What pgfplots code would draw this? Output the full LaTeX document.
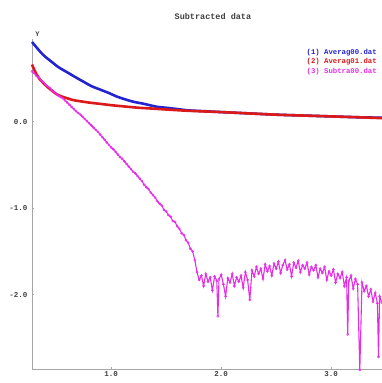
\documentclass[border=0pt]{standalone}
\usepackage{fontspec}
\setmonofont{Liberation Mono}
\usepackage{pgfplots}
\pgfplotsset{compat=1.18}
\definecolor{cblue}{RGB}{35,35,210}
\definecolor{cred}{RGB}{220,25,25}
\definecolor{cmag}{RGB}{230,45,230}
\begin{document}
\begin{tikzpicture}
\begin{axis}[
  x=110pt, y=86.5pt,
  xmin=0.28, xmax=3.46, ymin=-2.86, ymax=0.95,
  axis lines=left,
  axis line style={draw=gray!70, -, line width=0.8pt},
  clip=false,
  xtick={1,2,3}, xticklabels={1.0,2.0,3.0},
  ytick={-2,-1,0}, yticklabels={-2.0,-1.0,0.0},
  tick style={draw=gray!70, line width=0.6pt},
  major tick length=2pt,
  tick align=inside,
  ticklabel style={font=\ttfamily\bfseries\fontsize{7.5}{8}\selectfont, text=black!75},
  xticklabel style={yshift=1pt},
  yticklabel style={xshift=-1pt},
]
\addplot[cblue, line width=2.6pt, smooth] coordinates {
(0.28,0.92) (0.32,0.86) (0.36,0.80) (0.40,0.75) (0.45,0.70) (0.52,0.63) (0.60,0.57) (0.68,0.51) (0.75,0.46) (0.82,0.41) (0.90,0.37) (0.98,0.33) (1.05,0.29) (1.12,0.26) (1.20,0.23) (1.28,0.21) (1.35,0.19) (1.42,0.17) (1.50,0.16) (1.60,0.145) (1.70,0.13) (1.85,0.12) (2.00,0.11) (2.25,0.095) (2.50,0.08) (2.75,0.07) (3.00,0.06) (3.25,0.05) (3.46,0.045)
};
\addplot[cred, line width=2.6pt, smooth] coordinates {
(0.28,0.66) (0.30,0.60) (0.32,0.55) (0.35,0.49) (0.38,0.45) (0.42,0.40) (0.45,0.37) (0.50,0.32) (0.55,0.29) (0.60,0.27) (0.65,0.25) (0.72,0.235) (0.80,0.22) (0.90,0.205) (1.00,0.19) (1.12,0.175) (1.25,0.16) (1.38,0.15) (1.50,0.14) (1.70,0.125) (2.00,0.11) (2.25,0.095) (2.50,0.08) (2.75,0.07) (3.00,0.06) (3.25,0.05) (3.46,0.04)
};
\addplot[cmag, line width=1.1pt, mark=o, mark size=1.1pt, mark options={line width=0.5pt}] coordinates {
(0.28,0.58) (0.30,0.56) (0.32,0.53) (0.34,0.51) (0.36,0.48) (0.38,0.46) (0.40,0.43) (0.42,0.41) (0.44,0.39) (0.46,0.36) (0.48,0.34) (0.50,0.32) (0.52,0.30) (0.54,0.285) (0.56,0.27) (0.58,0.245) (0.60,0.22) (0.62,0.195) (0.64,0.17) (0.66,0.145) (0.68,0.12) (0.70,0.10) (0.72,0.08) (0.74,0.055) (0.76,0.03) (0.78,0.005) (0.80,-0.02) (0.82,-0.045) (0.84,-0.07) (0.86,-0.095) (0.88,-0.12) (0.90,-0.15) (0.92,-0.18) (0.94,-0.21) (0.96,-0.24) (0.98,-0.27) (1.00,-0.30) (1.02,-0.32) (1.04,-0.35) (1.06,-0.38) (1.08,-0.41) (1.10,-0.43) (1.12,-0.46) (1.14,-0.49) (1.16,-0.52) (1.18,-0.55) (1.20,-0.58) (1.22,-0.60) (1.24,-0.63) (1.26,-0.66) (1.28,-0.69) (1.30,-0.73) (1.32,-0.76) (1.34,-0.78) (1.36,-0.82) (1.38,-0.85) (1.40,-0.88) (1.42,-0.92) (1.44,-0.95) (1.46,-0.97) (1.48,-1.02) (1.50,-1.04) (1.52,-1.08) (1.54,-1.10) (1.56,-1.15) (1.58,-1.16) (1.60,-1.21) (1.62,-1.24) (1.64,-1.29) (1.66,-1.31) (1.68,-1.37) (1.70,-1.40) (1.72,-1.47) (1.74,-1.50) (1.76,-1.60)
(1.78,-1.74) (1.80,-1.83) (1.82,-1.78) (1.84,-1.90) (1.86,-1.76) (1.88,-1.85) (1.90,-1.80) (1.92,-1.95) (1.94,-1.79) (1.96,-1.84) (1.97,-2.25) (1.98,-1.82) (2.00,-1.77) (2.02,-1.88) (2.04,-2.02) (2.06,-1.81) (2.08,-1.86) (2.10,-1.76) (2.12,-1.90) (2.14,-1.80) (2.16,-1.85) (2.18,-1.78) (2.20,-1.92) (2.22,-1.74) (2.24,-1.83) (2.26,-2.06) (2.28,-1.72) (2.30,-1.79) (2.32,-1.68) (2.34,-1.76) (2.36,-1.70) (2.38,-1.82) (2.40,-1.65) (2.42,-1.73) (2.44,-1.67) (2.46,-1.78) (2.48,-1.64) (2.50,-1.70) (2.52,-1.62) (2.54,-1.75) (2.56,-1.66) (2.58,-1.60) (2.60,-1.71) (2.62,-1.65) (2.64,-1.79) (2.66,-1.63) (2.68,-1.69) (2.70,-1.61) (2.72,-1.74) (2.74,-1.66) (2.76,-1.70) (2.78,-1.63) (2.80,-1.77) (2.82,-1.68) (2.84,-1.72) (2.86,-1.66) (2.88,-1.80) (2.90,-1.70) (2.92,-1.75) (2.94,-1.68) (2.96,-1.83) (2.98,-1.73) (3.00,-1.78) (3.02,-1.71) (3.04,-1.86) (3.06,-1.76) (3.08,-1.81) (3.10,-1.74) (3.12,-1.90) (3.14,-1.80) (3.15,-2.46) (3.16,-1.84) (3.18,-1.78) (3.20,-1.93) (3.22,-1.82) (3.24,-1.88) (3.26,-2.87) (3.28,-1.86) (3.30,-1.96) (3.32,-1.90) (3.34,-2.02) (3.36,-1.94) (3.38,-2.08) (3.40,-1.98) (3.42,-2.10) (3.43,-2.72) (3.44,-2.02) (3.46,-2.09)
};
\coordinate (sw) at (axis cs:0.28,-2.86);
\node[font=\ttfamily\bfseries\fontsize{8.5}{9}\selectfont, text=black!75] at (axis cs:1.925,1.214) {Subtracted data};
\node[font=\ttfamily\bfseries\fontsize{7}{8}\selectfont, text=black!75] at (axis cs:0.33,1.01) {Y};
\node[anchor=west, inner sep=0pt, font=\ttfamily\bfseries\fontsize{7.3}{8}\selectfont, text=cblue] at (axis cs:2.775,0.80) {(1) Averag00.dat};
\node[anchor=west, inner sep=0pt, font=\ttfamily\bfseries\fontsize{7.3}{8}\selectfont, text=cred] at (axis cs:2.775,0.69) {(2) Averag01.dat};
\node[anchor=west, inner sep=0pt, font=\ttfamily\bfseries\fontsize{7.3}{8}\selectfont, text=cmag] at (axis cs:2.775,0.58) {(3) Subtra00.dat};
\end{axis}
\pgfresetboundingbox
\path[use as bounding box] ([xshift=-32pt,yshift=-14pt]sw) rectangle ([xshift=349pt,yshift=369pt]sw);
\end{tikzpicture}
\end{document}
